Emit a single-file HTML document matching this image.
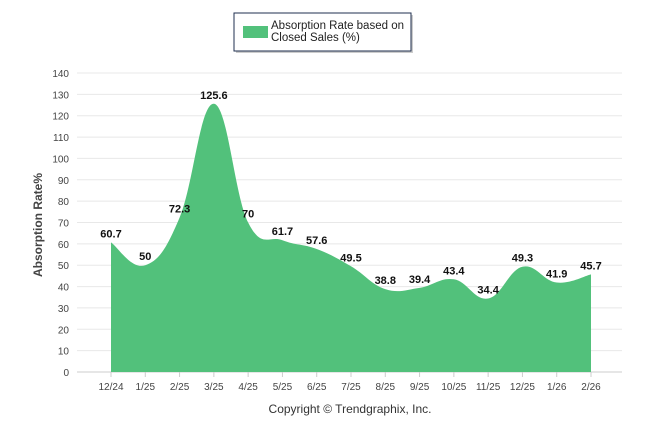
<!DOCTYPE html>
<html><head><meta charset="utf-8"><style>
body{margin:0;background:#fff;font-family:"Liberation Sans",sans-serif}
</style></head><body>
<svg id="c" width="646" height="434" style="display:block">
<g>
<rect x="236" y="15" width="177" height="38" fill="#ccc"/>
<rect x="234" y="13" width="177" height="38" fill="#fff" stroke="#1f2f4f" stroke-width="1"/>
<rect x="243" y="26" width="25" height="12" fill="#52c17b"/>
<text x="271" y="29" font-size="11.5" fill="#222">Absorption Rate based on</text>
<text x="271" y="41" font-size="11.5" fill="#222">Closed Sales (%)</text>
</g>
<text transform="translate(42,225) rotate(-90)" text-anchor="middle" font-size="12" font-weight="bold" fill="#444">Absorption Rate%</text>
<text x="350" y="413" text-anchor="middle" font-size="12" fill="#333">Copyright © Trendgraphix, Inc.</text>
<g id="grid"></g><g id="area"></g><g id="labels"></g>
</svg>
<script>
const categories=["12/24","1/25","2/25","3/25","4/25","5/25","6/25","7/25","8/25","9/25","10/25","11/25","12/25","1/26","2/26"];
const values=[60.7,50,72.3,125.6,70,61.7,57.6,49.5,38.8,39.4,43.4,34.4,49.3,41.9,45.7];
const yTicks=[0,10,20,30,40,50,60,70,80,90,100,110,120,130,140];
const NS="http://www.w3.org/2000/svg";
const x=i=>111+i*(480/(categories.length-1));
const y=v=>372-v*(299/140);
function mk(t,a,p){const e=document.createElementNS(NS,t);for(const k in a)e.setAttribute(k,a[k]);document.getElementById(p).appendChild(e);return e;}
yTicks.forEach(t=>{
 const l=mk('line',{x1:77,x2:622,y1:y(t),y2:y(t),stroke:'#e8e8e8'},'grid');
 
 
 const tx=mk('text',{x:69,y:y(t)+4,'text-anchor':'end','font-size':10,fill:'#444'},'grid');tx.textContent=t;
 
 
});
mk('line',{x1:77,x2:622,y1:y(0),y2:y(0),stroke:'#ccc'},'grid');
categories.forEach((c,i)=>{
 mk('line',{x1:x(i),x2:x(i),y1:y(0),y2:y(0)+5,stroke:'#ccc'},'grid');
 const tx=mk('text',{x:x(i),y:y(0)+18,'text-anchor':'middle','font-size':10,fill:'#444'},'grid');tx.textContent=c;
 
 
});
const pts=values.map((v,i)=>[x(i),y(v)]);
let d=`M${pts[0][0]},${y(0)} L${pts[0][0]},${pts[0][1]}`;
for(let i=0;i<pts.length-1;i++){
 const p0=pts[Math.max(0,i-1)],p1=pts[i],p2=pts[i+1],p3=pts[Math.min(pts.length-1,i+2)];
 const t=0.2;
 d+=` C${p1[0]+(p2[0]-p0[0])*t},${p1[1]+(p2[1]-p0[1])*t} ${p2[0]-(p3[0]-p1[0])*t},${p2[1]-(p3[1]-p1[1])*t} ${p2[0]},${p2[1]}`;
}
d+=` L${pts[pts.length-1][0]},${y(0)} Z`;
const a=mk('path',{d:d,fill:'#52c17b'},'area');


values.forEach((v,i)=>{
 const tx=mk('text',{x:x(i),y:y(v)-5,'text-anchor':'middle','font-size':11,'font-weight':'bold',fill:'#111'},'labels');tx.textContent=v;
 
 
});
</script>
</body></html>
